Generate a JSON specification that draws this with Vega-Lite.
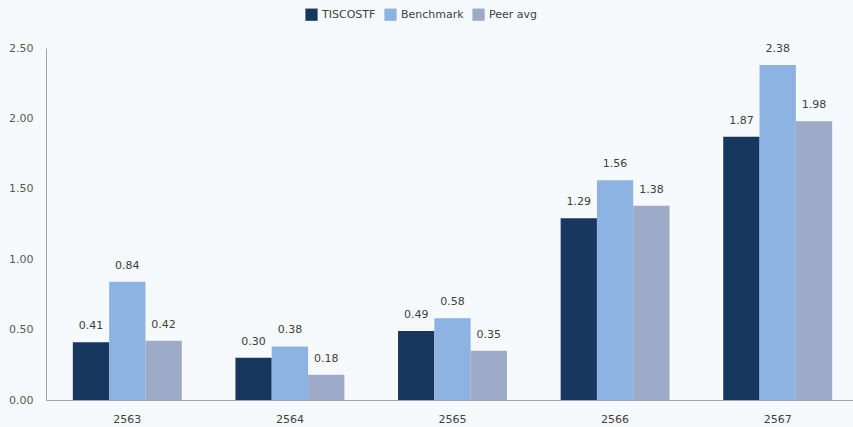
{
  "$schema": "https://vega.github.io/schema/vega-lite/v6.json",
  "width": 806,
  "height": 352,
  "autosize": {"type": "none"},
  "padding": {"left": 46, "top": 48, "right": 1, "bottom": 27},
  "background": "#f7fafd",
  "config": {
    "view": {"stroke": null},
    "font": "DejaVu Sans"
  },
  "data": {
    "values": [
      {"year": "2563", "series": "TISCOSTF", "value": 0.41},
      {"year": "2563", "series": "Benchmark", "value": 0.84},
      {"year": "2563", "series": "Peer avg", "value": 0.42},
      {"year": "2564", "series": "TISCOSTF", "value": 0.30},
      {"year": "2564", "series": "Benchmark", "value": 0.38},
      {"year": "2564", "series": "Peer avg", "value": 0.18},
      {"year": "2565", "series": "TISCOSTF", "value": 0.49},
      {"year": "2565", "series": "Benchmark", "value": 0.58},
      {"year": "2565", "series": "Peer avg", "value": 0.35},
      {"year": "2566", "series": "TISCOSTF", "value": 1.29},
      {"year": "2566", "series": "Benchmark", "value": 1.56},
      {"year": "2566", "series": "Peer avg", "value": 1.38},
      {"year": "2567", "series": "TISCOSTF", "value": 1.87},
      {"year": "2567", "series": "Benchmark", "value": 2.38},
      {"year": "2567", "series": "Peer avg", "value": 1.98}
    ]
  },
  "encoding": {
    "x": {
      "field": "year", "type": "nominal", "title": null,
      "scale": {"paddingInner": 0.33, "paddingOuter": 0.165, "range": [0, 813]},
      "axis": {"labelAngle": 0, "ticks": false, "domainColor": "#a6a6a6", "labelColor": "#404040", "labelFontSize": 11, "labelPadding": 13}
    },
    "xOffset": {"field": "series", "type": "nominal", "sort": ["TISCOSTF", "Benchmark", "Peer avg"], "scale": {"paddingInner": 0, "paddingOuter": 0}},
    "y": {
      "field": "value", "type": "quantitative", "title": null,
      "scale": {"domain": [0, 2.5], "nice": false},
      "axis": {"values": [0, 0.5, 1, 1.5, 2, 2.5], "format": ".2f", "grid": false, "ticks": false, "domainColor": "#a6a6a6", "labelColor": "#595959", "labelFontSize": 11, "labelPadding": 13}
    }
  },
  "layer": [
    {
      "mark": {"type": "bar"},
      "encoding": {
        "color": {
          "field": "series", "type": "nominal", "sort": ["TISCOSTF", "Benchmark", "Peer avg"],
          "scale": {"domain": ["TISCOSTF", "Benchmark", "Peer avg"], "range": ["#17375e", "#8db3e2", "#9eabc8"]},
          "legend": {"title": null, "orient": "none", "legendX": 259, "legendY": -40, "direction": "horizontal", "symbolType": "square", "symbolSize": 150, "labelFontSize": 11, "labelColor": "#404040", "columnPadding": 8, "symbolStrokeWidth": 0}
        }
      }
    },
    {
      "mark": {"type": "text", "baseline": "bottom", "dy": -11, "fontSize": 11, "color": "#404040"},
      "encoding": {
        "text": {"field": "value", "type": "quantitative", "format": ".2f"}
      }
    }
  ]
}
